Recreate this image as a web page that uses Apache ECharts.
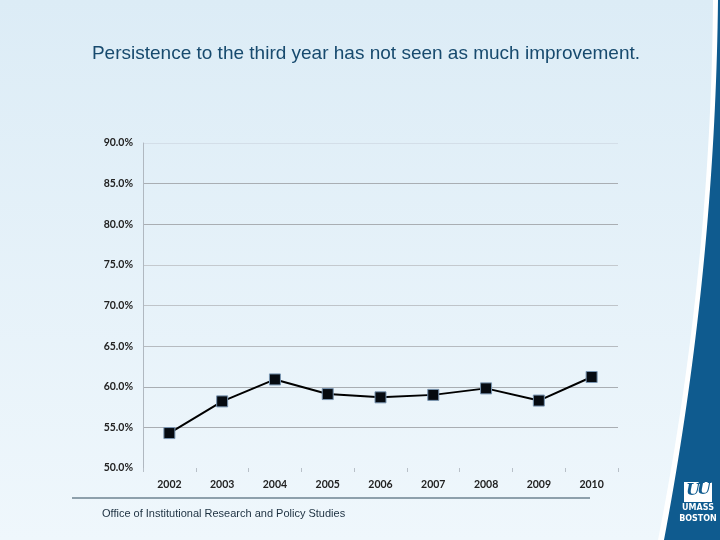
<!DOCTYPE html>
<html>
<head>
<meta charset="utf-8">
<script src="https://cdn.jsdelivr.net/npm/echarts@6/dist/echarts.min.js"></script>
<style>html,body{margin:0;padding:0;}#c{width:720px;height:540px;}</style>
</head>
<body>
<div id="c"></div>
<script>
var years = ['2002','2003','2004','2005','2006','2007','2008','2009','2010'];
var persistence = [54.3, 58.2, 60.9, 59.1, 58.7, 59.0, 59.8, 58.3, 61.2];
var yTicks = [50, 55, 60, 65, 70, 75, 80, 85, 90];
var titleText = 'Persistence to the third year has not seen as much improvement.';
var footerText = 'Office of Institutional Research and Policy Studies';

function bandPoints(x0, cx, x1) {
  var pts = [[720, 0]];
  for (var i = 0; i <= 40; i++) {
    var t = i / 40;
    var x = (1 - t) * (1 - t) * x0 + 2 * t * (1 - t) * cx + t * t * x1;
    var y = 2 * t * (1 - t) * 270 + t * t * 540;
    pts.push([x, y]);
  }
  pts.push([720, 540]);
  return pts;
}

var chart = echarts.init(document.getElementById('c'));
chart.setOption({
  animation: false,
  backgroundColor: {
    type: 'linear', x: 0, y: 0, x2: 0, y2: 1,
    colorStops: [{offset: 0, color: '#dcecf6'}, {offset: 1, color: '#eff7fc'}]
  },
  title: {
    text: titleText,
    left: 361, top: 39, textAlign: 'center',
    textStyle: {fontFamily: 'Liberation Sans, Arial', fontSize: 19, fontWeight: 'normal', color: '#174a6e'}
  },
  grid: {left: 143, right: 102, top: 143, bottom: 72},
  xAxis: {
    type: 'category',
    data: years,
    boundaryGap: true,
    axisLine: {show: false},
    axisTick: {show: true, alignWithLabel: false, length: 4, lineStyle: {color: '#b8c0c8'}},
    axisLabel: {fontFamily: 'Lato, sans-serif', fontWeight: 'bold', fontSize: 10.5, color: '#222', margin: 11}
  },
  yAxis: {
    type: 'value',
    min: yTicks[0], max: yTicks[yTicks.length - 1], interval: 5,
    axisLine: {show: true, lineStyle: {color: '#b0b8c0'}},
    axisTick: {show: false},
    splitLine: {show: true, lineStyle: {color: ['rgba(0,0,0,0)', '#a9aeb3', '#a9aeb3', '#b6bbc0', '#bfc4c9', '#c4c9ce', '#a9aeb3', '#a9aeb3', '#d3dee8'], width: 1}},
    axisLabel: {
      fontFamily: 'Lato, sans-serif', fontWeight: 'bold', fontSize: 10.5, color: '#222', margin: 10,
      formatter: function (v) { return v.toFixed(1) + '%'; }
    }
  },
  series: [{
    type: 'line',
    data: persistence,
    symbol: 'rect',
    symbolSize: 11,
    lineStyle: {color: '#000', width: 2},
    itemStyle: {color: '#050a10', borderColor: '#7894b0', borderWidth: 1}
  }],
  graphic: [
    {type: 'line', shape: {x1: 72, y1: 498, x2: 590, y2: 498}, style: {stroke: '#2e4b5c', lineWidth: 1}},
    {type: 'text', style: {x: 102, y: 508, text: footerText, fontFamily: 'Liberation Sans, Arial', fontSize: 11, fill: '#1c3040'}},
    {type: 'polygon', shape: {points: bandPoints(713, 711, 658)}, style: {fill: '#ffffff'}},
    {type: 'polygon', shape: {points: bandPoints(718, 715, 664)}, style: {fill: '#0f5b8f'}},
    {type: 'rect', shape: {x: 684, y: 482, width: 28, height: 20}, style: {fill: '#ffffff'}},
    {type: 'text', style: {x: 686, y: 483, text: 'U', fontFamily: 'DejaVu Serif', fontStyle: 'italic', fontWeight: 'bold', fontSize: 16, fill: '#0f5b8f'}},
    {type: 'text', style: {x: 697, y: 482, text: 'U', fontFamily: 'DejaVu Serif', fontStyle: 'italic', fontWeight: 'bold', fontSize: 16, fill: '#0f5b8f'}},
    {type: 'text', style: {x: 698, y: 504, text: 'UMASS', align: 'center', fontFamily: 'DejaVu Sans', fontWeight: 'bold', fontSize: 8, fill: '#ffffff'}},
    {type: 'text', style: {x: 698, y: 515, text: 'BOSTON', align: 'center', fontFamily: 'DejaVu Sans', fontWeight: 'bold', fontSize: 8, fill: '#ffffff'}}
  ]
});
</script>
</body>
</html>
